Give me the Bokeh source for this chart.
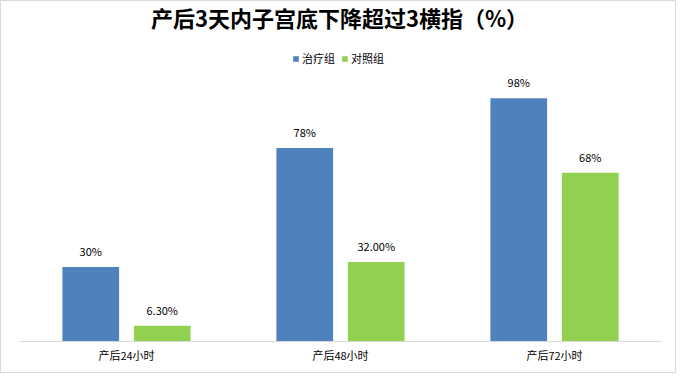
from bokeh.plotting import figure
from bokeh.models import ColumnDataSource, LabelSet, Label, Legend, LegendItem, FactorRange, Range1d
from bokeh.transform import dodge
from bokeh.core.properties import value
from bokeh.embed import file_html
from bokeh.resources import INLINE

categories = ["产后24小时", "产后48小时", "产后72小时"]
treat = [30, 78, 98]
control = [6.3, 32, 68]
treat_labels = ["30%", "78%", "98%"]
control_labels = ["6.30%", "32.00%", "68%"]
series_names = ["治疗组", "对照组"]
title_text = "产后3天内子宫底下降超过3横指（%）"

BLUE = "#4F81BD"
GREEN = "#92D050"
FONT = "Noto Sans CJK SC"

src = ColumnDataSource(dict(cat=categories, treat=treat, control=control,
                            tl=treat_labels, cl=control_labels))

p = figure(width=676, height=373, x_range=FactorRange(*categories),
           y_range=Range1d(0, 137), output_backend="svg", toolbar_location=None,
           min_border_left=18, min_border_right=16, min_border_top=0, min_border_bottom=33)
p.styles = {"border": "1px solid #d9d9d9"}
p.outline_line_color = None
p.xgrid.visible = False
p.ygrid.visible = False
p.yaxis.visible = False
p.xaxis.axis_line_color = "#d9d9d9"
p.xaxis.major_tick_line_color = None
p.xaxis.minor_tick_line_color = None
p.xaxis.major_tick_out = 0
p.xaxis.major_tick_in = 0
p.xaxis.major_label_text_font = FONT
p.xaxis.major_label_text_font_size = "11px"
p.xaxis.major_label_text_color = "#000000"
p.xaxis.major_label_standoff = 5

w = 0.265
off = 0.167
r1 = p.vbar(x=dodge("cat", -off, range=p.x_range), top="treat", width=w, source=src,
            fill_color=BLUE, line_color=None)
r2 = p.vbar(x=dodge("cat", off, range=p.x_range), top="control", width=w, source=src,
            fill_color=GREEN, line_color=None)

for col, lab, o in (("treat", "tl", -off), ("control", "cl", off)):
    ls = LabelSet(x=dodge("cat", o, range=p.x_range), y=col, text=lab, source=src,
                  text_align="center", text_baseline="middle", y_offset=16,
                  text_font=value(FONT), text_font_size="11px", text_color="#000000")
    p.add_layout(ls)

title = Label(x=320, y=325, x_units="screen", y_units="screen", text=title_text,
              text_align="center", text_baseline="middle", text_font=FONT,
              text_font_size="22px", text_font_style="bold", text_color="#000000")
p.add_layout(title)

legend = Legend(items=[LegendItem(label=series_names[0], renderers=[r1]),
                       LegendItem(label=series_names[1], renderers=[r2])],
                orientation="horizontal", location=(273, 275),
                glyph_width=7, glyph_height=7, label_height=12, label_standoff=3,
                spacing=6, padding=0, margin=0, border_line_color=None,
                background_fill_alpha=0,
                label_text_font=FONT, label_text_font_size="11px", label_text_color="#000000")
p.add_layout(legend)

open("out.html", "w").write(file_html(p, INLINE))
